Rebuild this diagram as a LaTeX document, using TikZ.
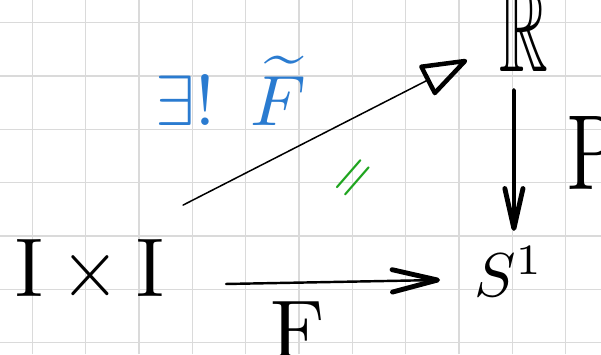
\documentclass[tikz,border=0pt]{standalone}
\usepackage{amssymb}
\usepackage{graphicx}
\usetikzlibrary{arrows.meta,calc}
\definecolor{gridgray}{HTML}{DADADA}
\definecolor{penblue}{HTML}{2A7BD0}
\definecolor{pengreen}{HTML}{1FA51F}

\begin{document}
\begin{tikzpicture}[
    font=\normalsize,
    paper/.style={gridgray, line width=0.8pt},
    obj/.style={inner sep=0pt, anchor=base, text=black},
    lbl/.style={inner sep=0pt, text=black},
    exlbl/.style={inner sep=0pt, anchor=base, text=penblue},
    eqmark/.style={inner sep=0pt, text=pengreen},
    diag/.style={-{Triangle[open, length=0.95cm, width=0.65cm, line width=2.4pt, round]},
        line width=0.8pt, line cap=round},
    hflow/.style={-{Straight Barb[length=0.85cm, width=0.42cm, line width=2.6pt, round]},
        line width=1.3pt, line cap=round},
    vflow/.style={-{Straight Barb[length=0.75cm, width=0.34cm, line width=2.6pt, round]},
        line width=2pt, line cap=round},
]

% ---------- paper ----------
\useasboundingbox (-0.606,-0.212) rectangle (10.663,6.426);
\clip (-0.606,-0.212) rectangle (10.663,6.426);
\fill[white] (-0.606,-0.212) rectangle (10.663,6.426);
\draw[paper] (-0.606,-0.212) grid (10.663,6.426);

% ---------- objects ----------
\node[obj] (ixi) at (1.08,0.857) {\scalebox{4.1}[4.45]{$\mathrm{I}\times\mathrm{I}$}};
\node[obj] (R)   at (9.22,5.076) {\scalebox{3.6}[6.6]{$\mathbb{R}$}};
\node[obj] (s1)  at (8.938,0.857) {\scalebox{3.3}{$S^1$}};

% ---------- maps ----------
\draw[hflow] ([shift={(2.552,0.244)}]ixi.base) -- ([shift={(-1.293,0.319)}]s1.base);
\node[lbl] (F) at (4.98,0.23) {\scalebox{4.45}{F}};

\draw[vflow] ([shift={(-0.19,-0.336)}]R.base) -- ([shift={(0.092,1.238)}]s1.base);
\node[lbl] (pmap) at (10.52,3.55) {\scalebox{4}[5.7]{P}};

% ---------- lift ----------
\draw[diag] ([shift={(1.746,1.723)}]ixi.base) -- ([shift={(-1.069,0.225)}]R.base);
\node[exlbl] (lift) at (3.726,4.08) {\scalebox{3.8}{$\exists!\hspace{0.5em}\widetilde{F}$}};
\node[eqmark, rotate=49] (comm) at (6.07,3.05) {\scalebox{3}{$=$}};

\end{tikzpicture}
\end{document}
